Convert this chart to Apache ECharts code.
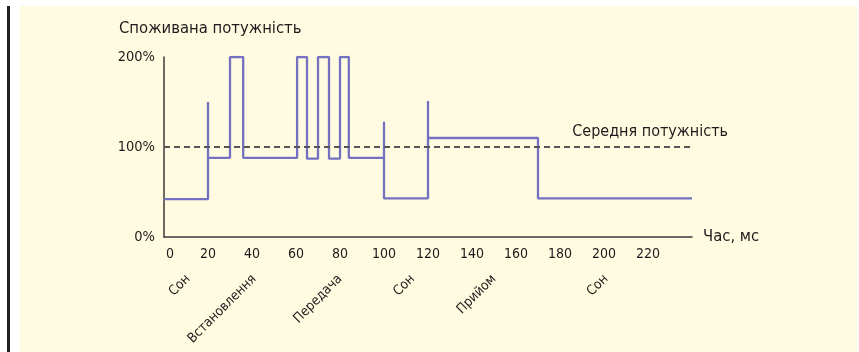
<!DOCTYPE html>
<html>
<head>
<meta charset="utf-8">
<script src="https://cdn.jsdelivr.net/npm/echarts@6/dist/echarts.min.js"></script>
<style>
  html, body { margin: 0; padding: 0; background: #ffffff; }
  #chart { width: 859px; height: 352px; }
</style>
</head>
<body>
<div id="chart"></div>
<script>
// ---- data ----
const timeMs = [0, 20, 20, 20, 30, 30, 36, 36, 60.5, 60.5, 65, 65, 70, 70, 75, 75, 80, 80, 84, 84, 100, 100, 100, 120, 120, 120, 170, 170, 240];
const powerPct = [42, 42, 150, 88, 88, 200, 200, 88, 88, 200, 200, 87, 87, 200, 200, 87, 87, 200, 200, 88, 88, 128, 43, 43, 151, 110, 110, 43, 43];
const avgPower = 100;
const avgLabel = 'Середня потужність';
const phaseNames = ['Сон', 'Встановлення', 'Передача', 'Сон', 'Прийом', 'Сон'];
const phasePos = [11, 41, 80, 113, 150, 201];
const yTitle = 'Споживана потужність';
const xTitle = 'Час, мс';
const xMin = 0, xMax = 240, xStep = 20;
const yMin = 0, yMax = 200, yStep = 100;

const FONT = "'DejaVu Sans Condensed', 'Liberation Sans Narrow', sans-serif";
const TXT = '#1e1b1c';

const chart = echarts.init(document.getElementById('chart'), null, { renderer: 'canvas' });
const lineData = timeMs.map((t, i) => [t, powerPct[i]]);

chart.setOption({
  animation: false,
  textStyle: { fontFamily: FONT, color: TXT },
  graphic: [
    { type: 'rect', shape: { x: 20, y: 6, width: 837, height: 346 }, style: { fill: '#fffbe0' }, z: -10 },
    { type: 'rect', shape: { x: 7, y: 6, width: 3, height: 346 }, style: { fill: '#222222' }, z: -10 }
  ],
  title: {
    text: yTitle,
    left: 114, top: 15,
    textStyle: { fontFamily: FONT, fontSize: 16.5, fontWeight: 'normal', color: TXT }
  },
  grid: { left: 164, right: 167, top: 57, bottom: 115 },
  xAxis: [
    {
      type: 'value', min: xMin, max: xMax, interval: xStep,
      name: xTitle, nameLocation: 'end', nameGap: 11,
      nameTextStyle: { fontFamily: FONT, fontSize: 16.5, color: TXT, verticalAlign: 'middle' },
      axisLine: { show: true, onZero: false, lineStyle: { color: '#3a3a3a', width: 1.5 } },
      axisTick: { show: false },
      splitLine: { show: false },
      axisLabel: {
        showMaxLabel: false, margin: 10,
        fontFamily: FONT, fontSize: 14, color: TXT,
        formatter: v => v === 0 ? '{z|0}' : String(v),
        rich: { z: { fontFamily: FONT, fontSize: 14, color: TXT, padding: [0, 0, 0, 12] } }
      }
    },
    {
      type: 'value', min: xMin, max: xMax, position: 'bottom',
      axisLine: { show: false }, axisTick: { show: false }, splitLine: { show: false },
      axisLabel: {
        customValues: phasePos, rotate: 45, margin: 40,
        fontFamily: FONT, fontSize: 13.5, color: TXT,
        formatter: v => phaseNames[phasePos.indexOf(v)]
      }
    }
  ],
  yAxis: {
    type: 'value', min: yMin, max: yMax, interval: yStep,
    axisLine: { show: true, lineStyle: { color: '#3a3a3a', width: 1.5 } },
    axisTick: { show: false },
    splitLine: { show: false },
    axisLabel: { margin: 9, fontFamily: FONT, fontSize: 14.5, color: TXT, formatter: '{value}%' }
  },
  series: [
    {
      type: 'line', data: lineData, symbol: 'none', xAxisIndex: 0,
      lineStyle: { color: '#7470c2', width: 2.3 },
      markLine: {
        silent: true, symbol: 'none',
        lineStyle: { color: '#555555', type: [6, 4], width: 1.8 },
        label: { show: false },
        data: [{ yAxis: avgPower }]
      },
      z: 3
    },
    {
      type: 'scatter', xAxisIndex: 0, symbolSize: 0,
      data: [[xMax, avgPower]],
      itemStyle: { opacity: 1 },
      label: {
        show: true, position: 'top', align: 'right', offset: [36, -2],
        formatter: avgLabel, fontFamily: FONT, fontSize: 16, color: TXT
      },
      emphasis: { disabled: true },
      silent: true
    }
  ]
});
</script>
</body>
</html>
